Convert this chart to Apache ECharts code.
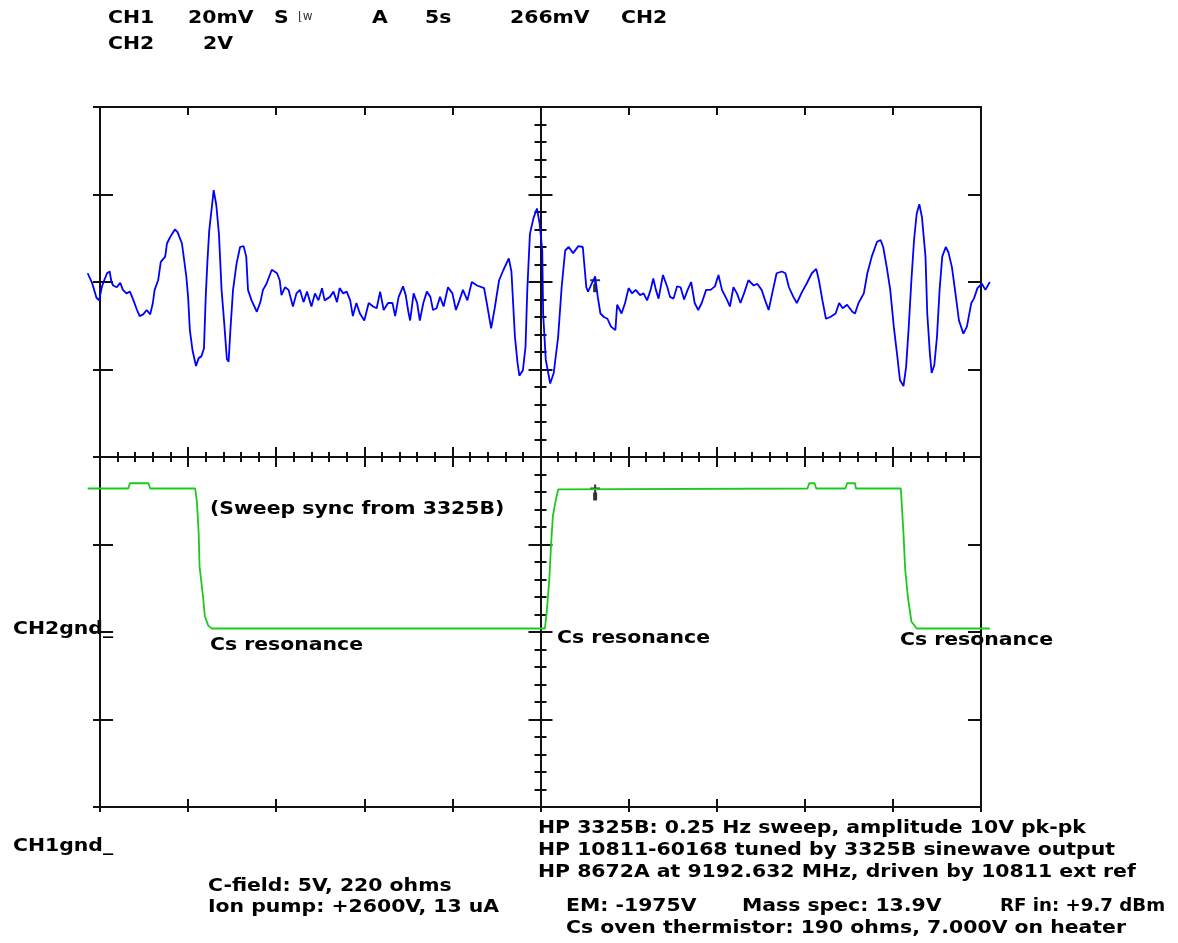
<!DOCTYPE html>
<html>
<head>
<meta charset="utf-8">
<title>Cs resonance sweep</title>
<script src="https://cdn.jsdelivr.net/npm/echarts@6.0.0/dist/echarts.min.js"></script>
<style>
html,body{margin:0;padding:0;background:#fff;}
#scope{width:1178px;height:943px;}
</style>
</head>
<body>
<div id="scope"></div>
<script>
// screen is 10 x 8 divisions, values below are in divisions from screen centre
var ch1Div=[
[-5.14,2.10],[-5.09,1.99],[-5.04,1.82],[-5.01,1.79],[-4.98,1.94],[-4.96,2.00],[-4.92,2.10],[-4.89,2.12],[-4.87,2.00],[-4.85,1.96],
[-4.81,1.94],[-4.77,1.99],[-4.74,1.91],[-4.70,1.87],[-4.66,1.89],[-4.62,1.79],[-4.58,1.68],[-4.55,1.61],[-4.51,1.63],[-4.47,1.68],
[-4.43,1.63],[-4.40,1.76],[-4.38,1.91],[-4.34,2.02],[-4.31,2.23],[-4.26,2.29],[-4.24,2.44],[-4.20,2.52],[-4.15,2.60],[-4.12,2.57],
[-4.07,2.44],[-4.05,2.29],[-4.02,2.06],[-4.00,1.83],[-3.98,1.45],[-3.95,1.22],[-3.91,1.04],[-3.88,1.13],[-3.85,1.15],[-3.82,1.24],
[-3.80,1.83],[-3.78,2.25],[-3.76,2.59],[-3.73,2.86],[-3.71,3.05],[-3.68,2.88],[-3.65,2.55],[-3.62,1.91],[-3.59,1.53],[-3.56,1.12],
[-3.54,1.09],[-3.52,1.45],[-3.49,1.91],[-3.45,2.21],[-3.41,2.40],[-3.37,2.41],[-3.34,2.29],[-3.32,1.91],[-3.28,1.79],[-3.22,1.66],
[-3.18,1.77],[-3.15,1.91],[-3.11,1.98],[-3.05,2.14],[-2.99,2.10],[-2.96,2.02],[-2.94,1.85],[-2.90,1.94],[-2.86,1.91],[-2.81,1.72],
[-2.77,1.87],[-2.73,1.91],[-2.69,1.77],[-2.65,1.89],[-2.60,1.72],[-2.56,1.87],[-2.52,1.79],[-2.48,1.93],[-2.45,1.79],[-2.39,1.83],
[-2.35,1.89],[-2.31,1.77],[-2.28,1.93],[-2.24,1.87],[-2.20,1.89],[-2.16,1.79],[-2.13,1.61],[-2.09,1.76],[-2.05,1.64],[-2.00,1.56],
[-1.95,1.76],[-1.90,1.72],[-1.86,1.70],[-1.82,1.89],[-1.78,1.68],[-1.73,1.76],[-1.68,1.76],[-1.65,1.61],[-1.61,1.83],[-1.56,1.95],
[-1.53,1.85],[-1.50,1.66],[-1.48,1.56],[-1.44,1.87],[-1.40,1.76],[-1.37,1.56],[-1.33,1.76],[-1.29,1.89],[-1.25,1.83],[-1.22,1.68],
[-1.18,1.70],[-1.14,1.83],[-1.10,1.72],[-1.05,1.94],[-1.00,1.87],[-0.96,1.68],[-0.92,1.79],[-0.88,1.91],[-0.83,1.79],[-0.78,2.00],
[-0.72,1.96],[-0.64,1.93],[-0.61,1.76],[-0.56,1.47],[-0.52,1.70],[-0.47,2.02],[-0.42,2.14],[-0.36,2.27],[-0.33,2.12],[-0.29,1.37],
[-0.26,1.07],[-0.24,0.93],[-0.20,0.99],[-0.17,1.26],[-0.15,1.91],[-0.12,2.55],[-0.08,2.73],[-0.04,2.84],[-0.01,2.67],[0.02,2.36],
[0.03,1.64],[0.06,1.11],[0.11,0.84],[0.15,0.96],[0.20,1.37],[0.24,1.94],[0.28,2.36],[0.32,2.40],[0.37,2.33],[0.43,2.41],
[0.48,2.40],[0.52,1.94],[0.54,1.89],[0.58,1.98],[0.62,2.06],[0.65,1.83],[0.68,1.64],[0.72,1.60],[0.76,1.58],[0.80,1.49],
[0.85,1.45],[0.87,1.74],[0.92,1.64],[0.96,1.76],[1.00,1.93],[1.04,1.87],[1.08,1.91],[1.13,1.85],[1.17,1.87],[1.21,1.79],
[1.25,1.91],[1.28,2.04],[1.31,1.91],[1.34,1.81],[1.39,2.08],[1.44,1.94],[1.47,1.83],[1.51,1.81],[1.55,1.95],[1.59,1.94],
[1.63,1.80],[1.67,1.91],[1.71,2.00],[1.75,1.76],[1.79,1.68],[1.83,1.76],[1.88,1.91],[1.93,1.91],[1.98,1.95],[2.02,2.08],
[2.06,1.91],[2.12,1.79],[2.15,1.72],[2.19,1.94],[2.23,1.87],[2.27,1.76],[2.31,1.87],[2.36,2.02],[2.42,1.96],[2.46,1.98],
[2.51,1.91],[2.55,1.79],[2.59,1.68],[2.63,1.87],[2.68,2.10],[2.74,2.12],[2.78,2.10],[2.82,1.94],[2.87,1.83],[2.91,1.76],
[2.97,1.89],[3.02,1.98],[3.08,2.10],[3.13,2.15],[3.16,2.02],[3.20,1.79],[3.24,1.58],[3.29,1.60],[3.35,1.64],[3.39,1.76],
[3.43,1.70],[3.48,1.74],[3.54,1.66],[3.57,1.64],[3.61,1.76],[3.67,1.87],[3.71,2.10],[3.76,2.29],[3.82,2.46],[3.86,2.48],
[3.89,2.40],[3.93,2.17],[3.97,1.91],[4.01,1.49],[4.05,1.15],[4.08,0.88],[4.12,0.81],[4.15,1.03],[4.18,1.49],[4.21,2.02],
[4.24,2.48],[4.27,2.78],[4.30,2.89],[4.33,2.74],[4.37,2.29],[4.39,1.64],[4.42,1.18],[4.44,0.96],[4.47,1.05],[4.50,1.37],
[4.53,1.91],[4.56,2.29],[4.60,2.40],[4.63,2.34],[4.67,2.17],[4.71,1.87],[4.75,1.56],[4.80,1.41],[4.84,1.49],[4.89,1.76],
[4.92,1.81],[4.96,1.93],[5.01,1.98],[5.05,1.91],[5.10,2.00]
];
var ch2Div=[
[-5.14,-0.36],[-4.68,-0.36],[-4.66,-0.30],[-4.45,-0.30],[-4.43,-0.36],[-3.92,-0.36],[-3.90,-0.51],[-3.88,-0.87],
[-3.87,-1.25],[-3.83,-1.60],[-3.81,-1.82],[-3.77,-1.93],[-3.73,-1.96],[0.05,-1.96],[0.07,-1.78],[0.10,-1.40],
[0.12,-1.00],[0.14,-0.68],[0.17,-0.51],[0.20,-0.37],[0.22,-0.36],[3.03,-0.36],[3.05,-0.30],[3.11,-0.30],
[3.13,-0.36],[3.46,-0.36],[3.48,-0.30],[3.57,-0.30],[3.58,-0.36],[4.09,-0.36],[4.12,-0.87],[4.14,-1.29],
[4.17,-1.60],[4.21,-1.88],[4.27,-1.96],[5.10,-1.96]
];
var cursorDiv=[[0.62,2.02],[0.62,-0.36]];
var xTicks=[-5,5,1];
var yTicks=[-4,4,1];
var xTrace=[-5.3,5.3];   // trace sweep runs a little past the graticule

var readouts=[
    ['CH1',108,19],['20mV',188,19],['S',274,19],['A',372,19],['5s',425,19],['266mV',510,19],['CH2',621,19],
    ['CH2',108,45],['2V',203,45],
    ['(Sweep sync from 3325B)',210,510],
    ['Cs resonance',210,646],['Cs resonance',557,639],['Cs resonance',900,641],
    ['CH2gnd_',13,630],['CH1gnd_',13,847],
    ['HP 3325B: 0.25 Hz sweep, amplitude 10V pk-pk',538,829],
    ['HP 10811-60168 tuned by 3325B sinewave output',538,851],
    ['HP 8672A at 9192.632 MHz, driven by 10811 ext ref',538,873],
    ['C-field: 5V, 220 ohms',208,887],
    ['Ion pump: +2600V, 13 uA',208,908],
    ['EM: -1975V',566,907],['Mass spec: 13.9V',742,907],['RF in: +9.7 dBm',1000,907,1.07],
    ['Cs oven thermistor: 190 ohms, 7.000V on heater',566,929]
];

var ink='#111';
function axis(pos,range,lineOn,onZero,tickLen,inside,minorLen){
    return {
        type:'value',
        gridIndex:0,
        position:pos,
        min:range[0],max:range[1],interval:range[2],
        axisLine:{show:lineOn,onZero:onZero,onZeroAxisIndex:0,lineStyle:{color:ink,width:2}},
        axisTick:{show:true,length:tickLen,inside:inside,lineStyle:{color:ink,width:2}},
        minorTick:{show:minorLen>0,splitNumber:5,length:minorLen,lineStyle:{color:ink,width:2}},
        axisLabel:{show:false},
        splitLine:{show:false},
        minorSplitLine:{show:false}
    };
}
function hiddenAxis(range){
    return {type:'value',gridIndex:1,min:range[0],max:range[1],show:false,
        axisLine:{onZero:false},splitLine:{show:false}};
}

var texts=[];
for(let i=0;i<readouts.length;i++){
    texts.push({
        type:'text',
        x:readouts[i][1],
        y:readouts[i][2],
        scaleX:readouts[i][3]||1.2,
        style:{
            text:readouts[i][0],
            font:'bold 17px "DejaVu Sans"',
            fill:'#000',
            align:'left',textAlign:'left',
            verticalAlign:'middle',textVerticalAlign:'middle'
        }
    });
}
texts.push({type:'text',x:298,y:17,style:{text:'\u230Aw',font:'12px "DejaVu Sans"',fill:'#333',
    align:'left',textAlign:'left',verticalAlign:'middle',textVerticalAlign:'middle'}});

var chart=echarts.init(document.getElementById('scope'));
var divW=88.1;
var option={
    animation:false,
    backgroundColor:'#fff',
    grid:[
        {left:100,top:107,width:881,height:700},
        {left:100-0.3*divW,top:107,width:881+0.6*divW,height:700}
    ],
    xAxis:[
        axis('bottom',xTicks,true,false,8,true,0),
        axis('bottom',xTicks,false,false,5,false,0),
        axis('top',xTicks,true,false,8,true,0),
        axis('bottom',xTicks,true,true,10,false,5),
        axis('top',xTicks,false,true,10,false,5),
        hiddenAxis(xTrace)
    ],
    yAxis:[
        axis('left',yTicks,true,false,13,true,0),
        axis('left',yTicks,false,false,7,false,0),
        axis('right',yTicks,true,false,13,true,0),
        axis('left',yTicks,true,true,12,false,6),
        axis('right',yTicks,false,true,12,false,6),
        hiddenAxis(yTicks)
    ],
    graphic:texts,
    series:[
        {
            name:'CH1',
            type:'line',
            xAxisIndex:5,yAxisIndex:5,
            data:ch1Div,
            symbol:'none',
            clip:false,
            lineStyle:{color:'#0000ff',width:1.8}
        },
        {
            name:'CH2',
            type:'line',
            xAxisIndex:5,yAxisIndex:5,
            data:ch2Div,
            symbol:'none',
            clip:false,
            lineStyle:{color:'#1ec81e',width:1.8}
        },
        {
            name:'cursor',
            type:'scatter',
            xAxisIndex:5,yAxisIndex:5,
            data:cursorDiv,
            symbol:'path://M0,3h10v2h-10z M4,0h2v8h-2z M3,8h4v8h-4z',
            symbolSize:[10,16],
            symbolOffset:[0,4],
            itemStyle:{color:'#000'},
            clip:false
        }
    ]
};
chart.setOption(option);
</script>
</body>
</html>
